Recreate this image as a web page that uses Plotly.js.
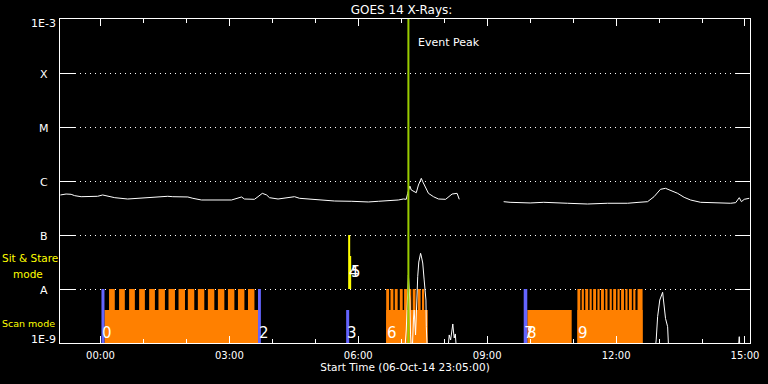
<!DOCTYPE html>
<html>
<head>
<meta charset="utf-8">
<script src="https://cdn.plot.ly/plotly-3.0.1.min.js"></script>
<style>html,body{margin:0;padding:0;background:#000;}#chart{width:768px;height:384px;}</style>
</head>
<body>
<div id="chart"></div>
<script>
// ---------------- DATA ----------------
// GOES 14 long channel (1-8 A) flux, W/m^2
const longTimes = [
 '2014-10-06 23:04','2014-10-06 23:12','2014-10-06 23:19','2014-10-06 23:24','2014-10-06 23:33','2014-10-06 23:56',
 '2014-10-07 00:03','2014-10-07 00:10','2014-10-07 00:20','2014-10-07 00:38','2014-10-07 01:02','2014-10-07 01:11',
 '2014-10-07 01:34','2014-10-07 01:41','2014-10-07 02:02','2014-10-07 02:09','2014-10-07 02:21','2014-10-07 03:03',
 '2014-10-07 03:12','2014-10-07 03:17','2014-10-07 03:21','2014-10-07 03:35','2014-10-07 03:40','2014-10-07 03:46',
 '2014-10-07 03:52','2014-10-07 03:56','2014-10-07 04:08','2014-10-07 04:27','2014-10-07 04:31','2014-10-07 04:38',
 '2014-10-07 04:55','2014-10-07 05:09','2014-10-07 05:27','2014-10-07 05:51','2014-10-07 06:14','2014-10-07 06:28',
 '2014-10-07 06:42','2014-10-07 06:56','2014-10-07 07:03','2014-10-07 07:07','2014-10-07 07:09','2014-10-07 07:12',
 '2014-10-07 07:14','2014-10-07 07:17','2014-10-07 07:21','2014-10-07 07:24','2014-10-07 07:28','2014-10-07 07:30',
 '2014-10-07 07:34','2014-10-07 07:38','2014-10-07 07:45','2014-10-07 07:52','2014-10-07 08:02','2014-10-07 08:06',
 '2014-10-07 08:11','2014-10-07 08:18','2014-10-07 08:21','2014-10-07 08:50',
 '2014-10-07 09:23','2014-10-07 09:32','2014-10-07 10:00','2014-10-07 10:19','2014-10-07 10:52','2014-10-07 11:20',
 '2014-10-07 11:48','2014-10-07 12:16','2014-10-07 12:32','2014-10-07 12:44','2014-10-07 12:53','2014-10-07 13:02',
 '2014-10-07 13:09','2014-10-07 13:16','2014-10-07 13:26','2014-10-07 13:35','2014-10-07 13:44','2014-10-07 13:58',
 '2014-10-07 14:22','2014-10-07 14:40','2014-10-07 14:47','2014-10-07 14:52','2014-10-07 14:55','2014-10-07 14:59',
 '2014-10-07 15:06'];
const longFlux = [
 5.51e-7,5.74e-7,5.67e-7,5.35e-7,5.12e-7,5.21e-7,
 5.51e-7,5.21e-7,4.91e-7,4.64e-7,4.91e-7,5.06e-7,
 5.21e-7,5.12e-7,5.06e-7,4.78e-7,4.45e-7,4.45e-7,
 4.78e-7,5.06e-7,4.64e-7,4.58e-7,5.12e-7,5.91e-7,
 5.51e-7,4.91e-7,4.64e-7,4.91e-7,5.12e-7,4.78e-7,
 4.58e-7,4.45e-7,4.26e-7,4.21e-7,4.09e-7,4.21e-7,
 4.32e-7,4.45e-7,4.64e-7,4.58e-7,5.91e-7,8.07e-7,
 6.81e-7,6.53e-7,6.07e-7,8.43e-7,1.12e-6,9.70e-7,
 7.32e-7,5.91e-7,5.12e-7,4.64e-7,4.58e-7,5.12e-7,
 5.74e-7,5.91e-7,4.58e-7,null,
 4.14e-7,4.03e-7,3.92e-7,4.03e-7,3.87e-7,3.75e-7,
 3.87e-7,3.87e-7,4.03e-7,4.14e-7,5.12e-7,7.02e-7,
 7.32e-7,6.61e-7,5.91e-7,4.99e-7,4.45e-7,4.03e-7,
 3.87e-7,3.87e-7,3.97e-7,4.91e-7,4.14e-7,4.58e-7,
 4.78e-7];

// GOES 14 short channel (0.5-4 A) flux, mostly below 1E-9
const shortTimes = [
 '2014-10-07 07:04','2014-10-07 07:07','2014-10-07 07:10','2014-10-07 07:12','2014-10-07 07:13','2014-10-07 07:15',
 '2014-10-07 07:17','2014-10-07 07:18','2014-10-07 07:20','2014-10-07 07:21','2014-10-07 07:23','2014-10-07 07:24:30',
 '2014-10-07 07:27','2014-10-07 07:28','2014-10-07 07:30','2014-10-07 07:32','2014-10-07 07:34:30','2014-10-07 07:35',
 '2014-10-07 07:37','2014-10-07 08:04','2014-10-07 08:07','2014-10-07 08:09','2014-10-07 08:11','2014-10-07 08:12',
 '2014-10-07 08:13','2014-10-07 08:14','2014-10-07 08:15:30','2014-10-07 08:18','2014-10-07 12:53','2014-10-07 12:56',
 '2014-10-07 12:58','2014-10-07 13:01','2014-10-07 13:05','2014-10-07 13:07','2014-10-07 13:09','2014-10-07 13:12',
 '2014-10-07 13:14','2014-10-07 14:49:30','2014-10-07 14:52','2014-10-07 14:54'];
const shortFlux = [
 5e-10,1.74e-9,1.82e-8,6.25e-9,1.41e-9,5e-10,
 2.67e-9,4.08e-9,1.41e-9,4.08e-9,1.69e-8,3.16e-8,
 4.58e-8,4.08e-8,3.03e-8,1.47e-8,6.25e-9,2.0e-9,
 5e-10,5e-10,1.41e-9,1.14e-9,1.90e-9,2.25e-9,
 1.60e-9,1.24e-9,1.47e-9,5e-10,5e-10,1.14e-9,
 3.07e-9,6.25e-9,8.69e-9,4.70e-9,2.86e-9,2.0e-9,
 5e-10,5e-10,1.31e-9,5e-10];

// Scan mode: continuous coverage blocks
const scanStart = ['2014-10-07 00:05:36','2014-10-07 06:39','2014-10-07 09:56','2014-10-07 11:06'];
const scanEnd   = ['2014-10-07 03:40','2014-10-07 07:37','2014-10-07 10:58','2014-10-07 12:37'];
const scanLevel = 4.1e-9;
// Scan mode: individual scans (teeth)
const scanTeethStart = [
 '2014-10-07 00:12','2014-10-07 00:26','2014-10-07 00:40','2014-10-07 00:54','2014-10-07 01:08','2014-10-07 01:21',
 '2014-10-07 01:35','2014-10-07 01:49','2014-10-07 02:02','2014-10-07 02:16','2014-10-07 02:30','2014-10-07 02:44',
 '2014-10-07 02:58','2014-10-07 03:12','2014-10-07 03:26',
 '2014-10-07 06:39','2014-10-07 06:45','2014-10-07 06:51','2014-10-07 06:58','2014-10-07 07:04','2014-10-07 07:10',
 '2014-10-07 07:16','2014-10-07 07:23','2014-10-07 07:29',
 '2014-10-07 11:06','2014-10-07 11:12','2014-10-07 11:17','2014-10-07 11:23','2014-10-07 11:28','2014-10-07 11:34',
 '2014-10-07 11:39','2014-10-07 11:45','2014-10-07 11:51','2014-10-07 11:56','2014-10-07 12:02','2014-10-07 12:07',
 '2014-10-07 12:13','2014-10-07 12:18','2014-10-07 12:24','2014-10-07 12:30'];
const scanTeethEnd = [
 '2014-10-07 00:20','2014-10-07 00:34','2014-10-07 00:48','2014-10-07 01:02','2014-10-07 01:16','2014-10-07 01:30',
 '2014-10-07 01:44','2014-10-07 01:58','2014-10-07 02:11','2014-10-07 02:25','2014-10-07 02:39','2014-10-07 02:53',
 '2014-10-07 03:07','2014-10-07 03:21','2014-10-07 03:35',
 '2014-10-07 06:43','2014-10-07 06:49','2014-10-07 06:55','2014-10-07 07:02','2014-10-07 07:08','2014-10-07 07:14',
 '2014-10-07 07:20','2014-10-07 07:27','2014-10-07 07:32',
 '2014-10-07 11:10','2014-10-07 11:15','2014-10-07 11:21','2014-10-07 11:26','2014-10-07 11:32','2014-10-07 11:37',
 '2014-10-07 11:43','2014-10-07 11:48','2014-10-07 11:54','2014-10-07 12:00','2014-10-07 12:05','2014-10-07 12:11',
 '2014-10-07 12:16','2014-10-07 12:22','2014-10-07 12:27','2014-10-07 12:37'];
const scanTeethLevel = 1e-8;
// Pointing markers (blue)
const markStart = ['2014-10-07 00:01:24','2014-10-07 03:40','2014-10-07 05:43:06','2014-10-07 09:51'];
const markEnd   = ['2014-10-07 00:05:36','2014-10-07 03:44','2014-10-07 05:47:18','2014-10-07 09:56'];
const markLevel = [1e-8, 1e-8, 4.1e-9, 1e-8];
// Sit & Stare mode (yellow)
const stareStart = ['2014-10-07 05:45:54','2014-10-07 05:48:42'];
const stareEnd   = ['2014-10-07 05:48:42','2014-10-07 05:50:06'];
const stareLevel = [1e-7, 4.1e-8];
// Observation numbers
const obsLabels = ['0','2','3','4','5','6','7','8','9'];
const obsTimes  = ['2014-10-07 00:00','2014-10-07 03:38','2014-10-07 05:42','2014-10-07 05:44:30','2014-10-07 05:47:18',
                   '2014-10-07 06:37','2014-10-07 09:49','2014-10-07 09:53','2014-10-07 11:04'];
const obsFlux   = [1.56e-9,1.56e-9,1.56e-9,2.1e-8,2.1e-8,1.56e-9,1.56e-9,1.56e-9,1.56e-9];
// Event peak
const peakTime = '2014-10-07 07:10';
// GOES class tick labels
const classVals   = [1e-3,1e-4,1e-5,1e-6,1e-7,1e-8,1e-9];
const classLabels = ['1E-3','X','M','C','B','A','1E-9'];
const xRange = ['2014-10-06 23:03:30','2014-10-07 15:07'];

// ---------------- BUILD ----------------
function rects(starts, ends, lo, hi) {
  const x = [], y = [];
  for (let i = 0; i < starts.length; i++) {
    const l = Array.isArray(lo) ? lo[i] : lo;
    const h = Array.isArray(hi) ? hi[i] : hi;
    x.push(starts[i], ends[i], ends[i], starts[i], starts[i], null);
    y.push(l, l, h, h, l, null);
  }
  return {x, y};
}
const ORANGE = '#ff8000', BLUE = '#6464ff', YELLOW = '#ffff00', GREEN = '#99cc00';
const FONT = 'DejaVu Sans';

function fillTrace(r, color) {
  return {x: r.x, y: r.y, type: 'scatter', mode: 'lines', fill: 'toself', fillcolor: color,
          line: {width: 0, color: color}, hoverinfo: 'skip', showlegend: false};
}

const traces = [
  fillTrace(rects(scanStart, scanEnd, 1e-9, scanLevel), ORANGE),
  fillTrace(rects(scanTeethStart, scanTeethEnd, 1e-9, scanTeethLevel), ORANGE),
  fillTrace(rects(markStart, markEnd, 1e-9, markLevel), BLUE),
  fillTrace(rects(stareStart, stareEnd, 1e-8, stareLevel), YELLOW),
  {x: longTimes, y: longFlux, type: 'scatter', mode: 'lines', line: {color: '#fff', width: 1},
   connectgaps: false, showlegend: false},
  {x: shortTimes, y: shortFlux, type: 'scatter', mode: 'lines', line: {color: '#fff', width: 1},
   showlegend: false},
  {x: [peakTime, peakTime], y: [1e-9, 1e-3], type: 'scatter', mode: 'lines',
   line: {color: GREEN, width: 2}, showlegend: false}
];

const annotations = [];
classVals.forEach((v, i) => {
  annotations.push({xref: 'paper', yref: 'y', x: -0.0232, y: Math.log10(v), text: classLabels[i],
    showarrow: false, xanchor: 'center', yanchor: 'middle',
    yshift: i === 0 ? -4 : (i === classVals.length - 1 ? 4 : -1),
    font: {family: FONT, size: 11, color: '#fff'}});
});
obsLabels.forEach((t, i) => {
  annotations.push({xref: 'x', yref: 'y', x: obsTimes[i], y: Math.log10(obsFlux[i]), text: t,
    showarrow: false, xanchor: 'left', yanchor: 'middle',
    font: {family: FONT, size: 15, color: '#fff'}});
});
annotations.push({xref: 'x', yref: 'y', x: peakTime, y: -3.444, text: 'Event Peak', showarrow: false,
  xanchor: 'left', yanchor: 'middle', xshift: 8, font: {family: FONT, size: 11, color: '#fff'}});
annotations.push({xref: 'paper', yref: 'y', x: -0.087, y: -7.435, text: 'Sit & Stare', showarrow: false,
  xanchor: 'left', yanchor: 'middle', font: {family: FONT, size: 10.5, color: YELLOW}});
annotations.push({xref: 'paper', yref: 'y', x: -0.071, y: -7.713, text: 'mode', showarrow: false,
  xanchor: 'left', yanchor: 'middle', font: {family: FONT, size: 10.5, color: YELLOW}});
annotations.push({xref: 'paper', yref: 'y', x: -0.087, y: -8.648, text: 'Scan mode', showarrow: false,
  xanchor: 'left', yanchor: 'middle', font: {family: FONT, size: 9.5, color: YELLOW}});

const layout = {
  width: 768, height: 384,
  margin: {l: 60, r: 18, t: 19, b: 41, pad: 0},
  paper_bgcolor: '#000', plot_bgcolor: '#000',
  showlegend: false,
  title: {text: 'GOES 14 X-Rays:', font: {family: FONT, size: 12, color: '#fff'},
          xref: 'paper', x: 0.495, xanchor: 'center', yref: 'container', y: 0.974, yanchor: 'middle'},
  xaxis: {
    type: 'date', range: xRange, autorange: false,
    showgrid: false, zeroline: false,
    showline: true, linecolor: '#fff', linewidth: 1, mirror: 'ticks',
    ticks: 'inside', ticklen: 7, tickwidth: 1, tickcolor: '#fff',
    tick0: '2014-10-07 00:00', dtick: 3 * 3600000, tickformat: '%H:%M',
    ticklabelstandoff: 3,
    tickfont: {family: FONT, size: 10, color: '#fff'},
    minor: {dtick: 3600000, ticks: 'inside', ticklen: 4, tickcolor: '#fff', tickwidth: 1, showgrid: false},
    title: {text: 'Start Time (06-Oct-14 23:05:00)', font: {family: FONT, size: 10.5, color: '#fff'}, standoff: 3}
  },
  yaxis: {
    type: 'log', range: [-9, -3], autorange: false,
    tickmode: 'array', tickvals: classVals, showticklabels: false,
    ticks: 'inside', ticklen: 15, tickwidth: 1, tickcolor: '#fff',
    showline: true, linecolor: '#fff', linewidth: 1, mirror: 'ticks',
    showgrid: true, gridcolor: '#fff', gridwidth: 1, griddash: '1px,4px',
    zeroline: false
  },
  annotations: annotations
};

Plotly.newPlot('chart', traces, layout, {staticPlot: true, displayModeBar: false});
</script>
</body>
</html>
